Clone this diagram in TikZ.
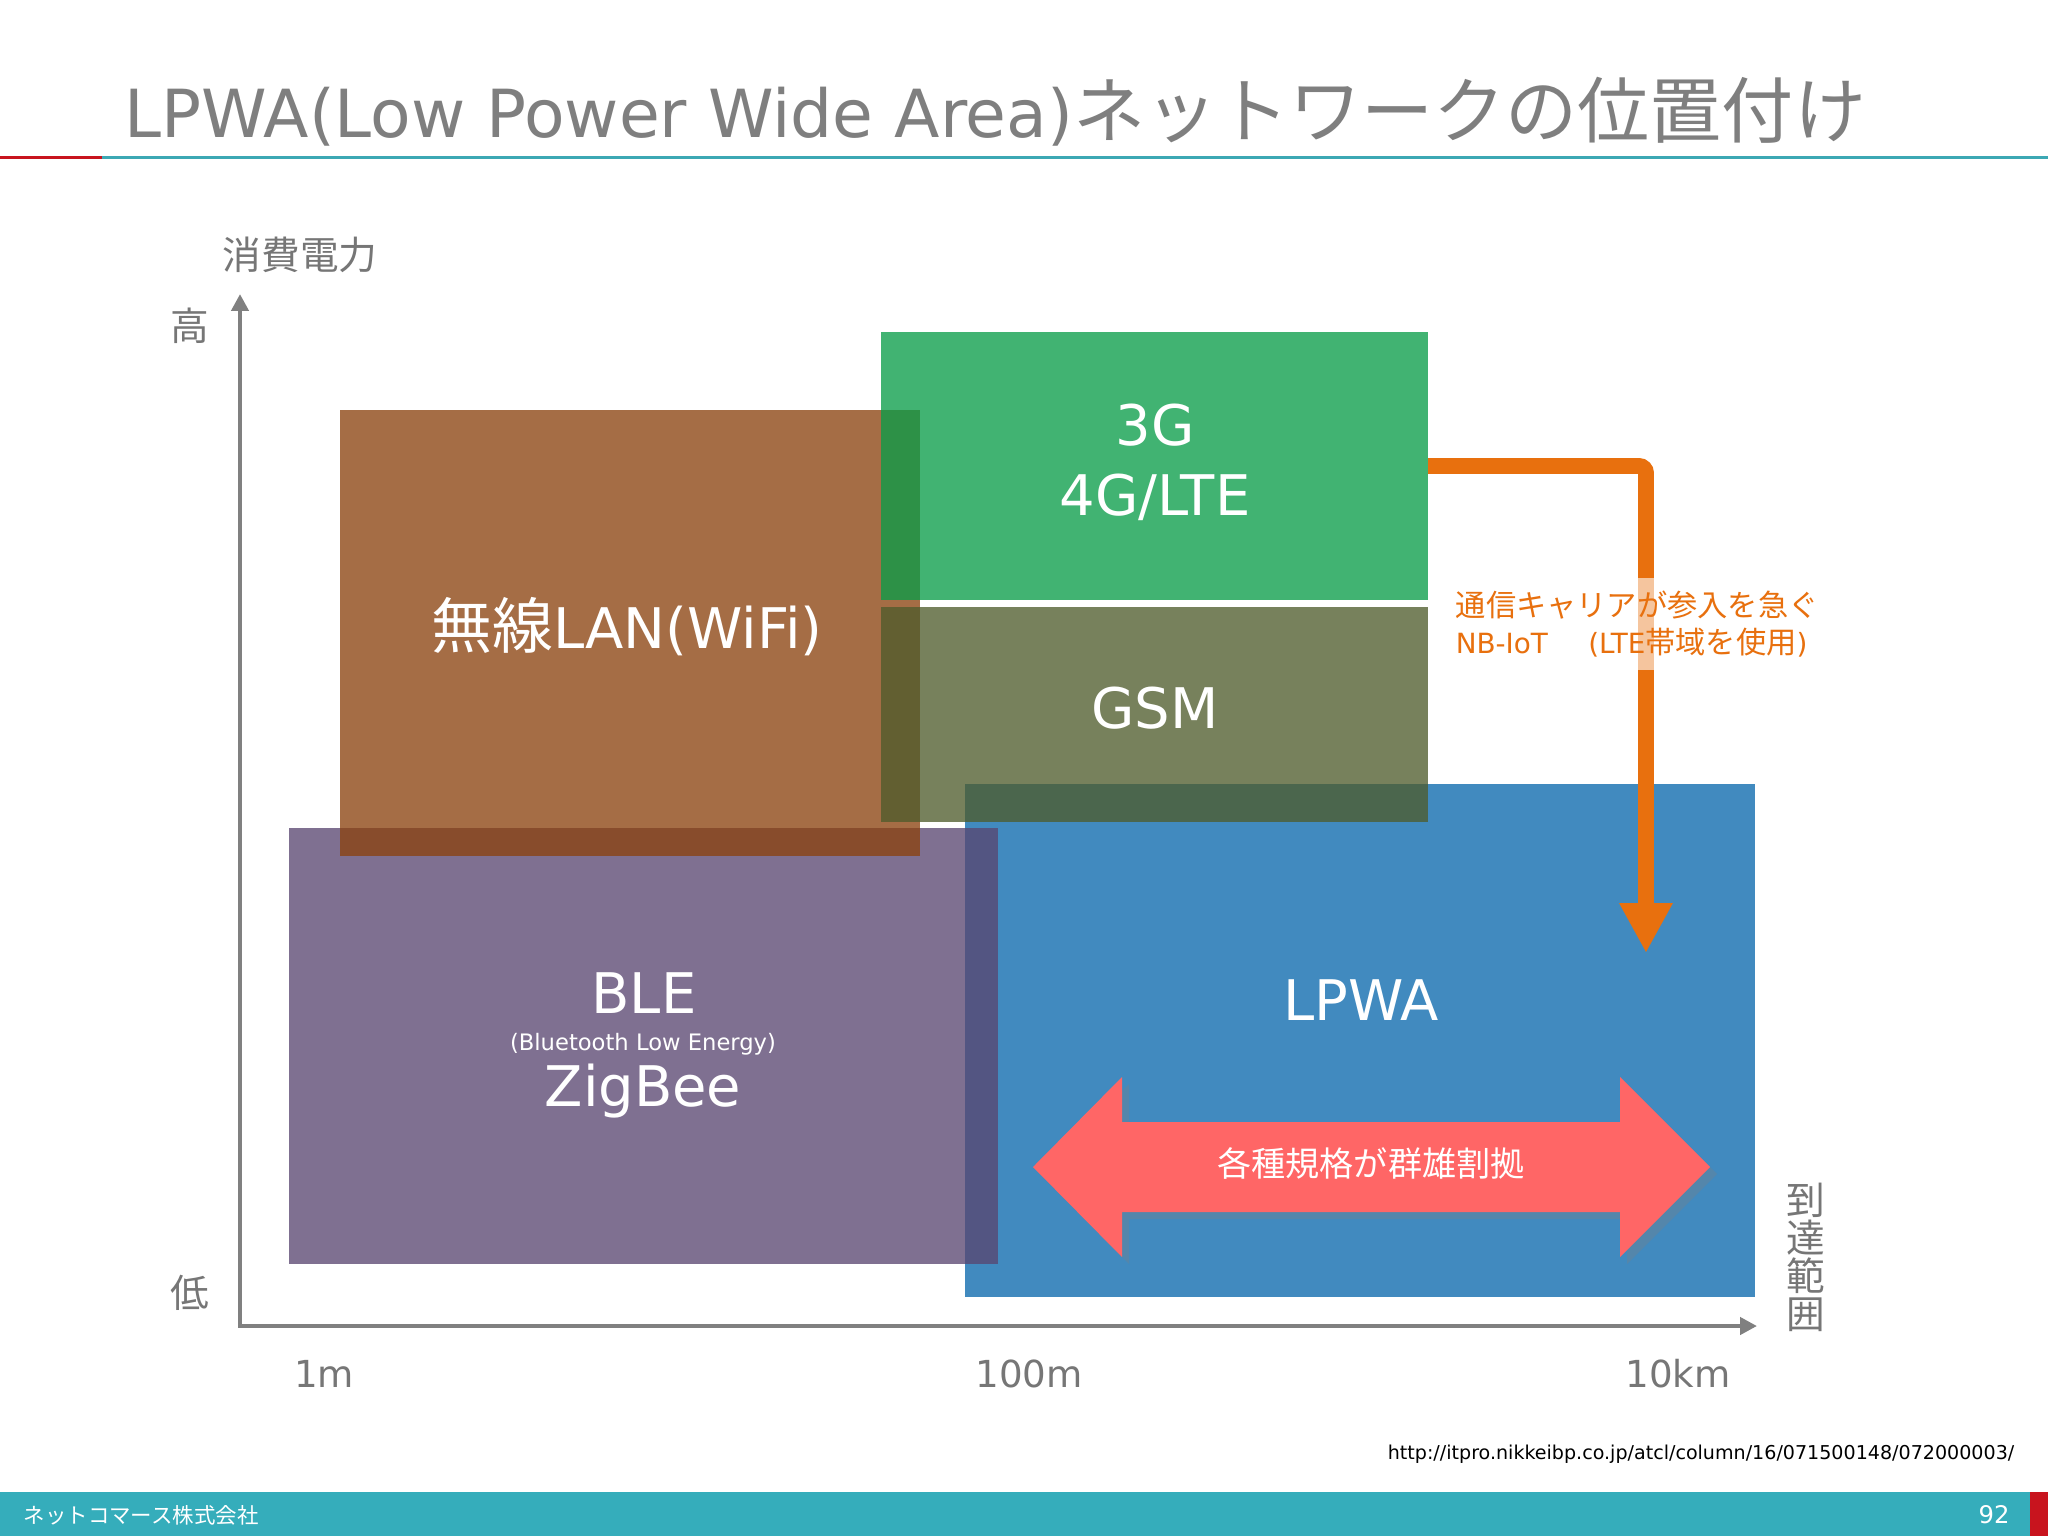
\documentclass[tikz,border=0pt]{standalone}
\usepackage{fontspec}
\setmainfont[Scale=0.92]{DejaVu Sans}
\newfontfamily\jp{Noto Sans CJK JP}
\usetikzlibrary{arrows.meta, shadows}
\definecolor{titlegray}{RGB}{127,127,127}
\definecolor{labgray}{RGB}{118,118,118}
\definecolor{axisgray}{RGB}{128,128,128}
\definecolor{lineteal}{RGB}{60,168,180}
\definecolor{linered}{RGB}{200,20,30}
\definecolor{footteal}{RGB}{53,173,187}
\definecolor{lpwablue}{RGB}{9,104,172}
\definecolor{blepurple}{RGB}{89,70,112}
\definecolor{wifibrown}{RGB}{139,66,14}
\definecolor{cellgreen}{RGB}{9,157,72}
\definecolor{gsmolive}{RGB}{79,92,43}
\definecolor{carrierorange}{RGB}{232,112,14}
\definecolor{rangered}{RGB}{255,102,102}
\tikzset{
  % Areas of each standard
  techbox/.style   = {rectangle, fill=#1, fill opacity=0.77, inner sep=0pt, outer sep=0pt},
  % Labels
  boxlab/.style    = {white, align=center, font=\fontsize{17.3pt}{19.9pt}\selectfont},
  smalllab/.style  = {white, font=\fontsize{7pt}{8pt}\selectfont},
  axislab/.style   = {labgray, align=center, font=\jp\fontsize{11pt}{10.8pt}\selectfont},
  ticklab/.style   = {labgray, font=\fontsize{11.5pt}{13pt}\selectfont},
  % Axes
  axisline/.style  = {{Triangle[width=4.8pt 0,length=4.8pt 0]}-{Triangle[width=4.8pt 0,length=4.8pt 0]}, line width=1.4pt, axisgray},
  % Carrier arrow and note
  carrier/.style   = {-{Triangle[width=14.2pt 0,length=14.2pt 0]}, line width=4.5pt, carrierorange, rounded corners=2pt},
  carriertext/.style = {carrierorange, align=left, fill=white, fill opacity=0.6, text opacity=1,
                        inner xsep=5.7pt, inner ysep=3.7pt, font=\fontsize{8.6pt}{10.5pt}\selectfont},
  % Range arrow
  rangearrow/.style = {fill=rangered, drop shadow={shadow xshift=2pt, shadow yshift=-2pt, opacity=0.3}},
}

\begin{document}
\begin{tikzpicture}[x=0.01cm, y=-0.01cm]
  \useasboundingbox (0,0) rectangle (2048,1536);
  \fill[white] (0,0) rectangle (2048,1536);

  % title
  \node[titlegray, anchor=base west, inner sep=0pt, font=\fontsize{20.5pt}{24pt}\selectfont] (title) at (124,137)
    {LPWA(Low Power Wide Area){\jp ネットワークの位置付け}};
  \fill[linered] (0,155.5) rectangle (102,158.5);
  \fill[lineteal] (102,155.5) rectangle (2048,158.5);

  % areas
  \node[techbox=lpwablue, minimum width=7.90cm, minimum height=5.13cm] (lpwa) at (1360,1040.5) {};
  \node[techbox=blepurple, minimum width=7.09cm, minimum height=4.36cm] (ble) at (643.5,1046) {};
  \node[techbox=wifibrown, minimum width=5.80cm, minimum height=4.46cm] (wifi) at (630,633) {};
  \node[techbox=cellgreen, minimum width=5.47cm, minimum height=2.68cm] (g3) at (1154.5,466) {};
  \node[techbox=gsmolive, minimum width=5.47cm, minimum height=2.15cm] (gsm) at (1154.5,714.5) {};

  \node[boxlab] (wifilab) at (627,627) {{\jp 無線}LAN(WiFi)};
  \node[boxlab] (g3lab) at (1155,462) {3G\\4G/LTE};
  \node[boxlab] (gsmlab) at (1155,708) {GSM};
  \node[boxlab] (blelab) at (644,993) {BLE};
  \node[smalllab] (blefull) at (643,1044) {(Bluetooth Low Energy)};
  \node[boxlab] (ziglab) at (643,1091) {ZigBee};
  \node[boxlab] (lpwalab) at (1361,1000) {LPWA};

  % range arrow
  \fill[rangearrow] (1033,1167) -- (1122,1077) -- (1122,1122) -- (1620,1122) -- (1620,1077)
    -- (1710,1167) -- (1620,1257) -- (1620,1212) -- (1122,1212) -- (1122,1257) -- cycle;
  \node[white, font=\jp\fontsize{9.7pt}{11pt}\selectfont] (range) at (1371,1163) {各種規格が群雄割拠};

  % carrier arrow
  \coordinate (turn) at (1646,466);
  \coordinate (tip) at (1646,953);
  \draw[carrier] (g3.east |- turn) -- (turn) -- (tip);
  \node[carriertext, anchor=west] (nbiot) at (1435,624)
    {{\jp 通信キャリアが参入を急ぐ}\\NB-IoT\hspace{1.45em}(LTE{\jp 帯域を使用})};

  % axes
  \coordinate (origin) at (240,1326);
  \coordinate (ytip) at (240,294);
  \coordinate (xtip) at (1757,1326);
  \draw[axisline] (ytip) -- (origin) -- (xtip);
  \node[axislab] (power) at (300,255) {消費電力};
  \node[axislab] (high) at (190,326) {高};
  \node[axislab] (low) at (190,1293) {低};
  \node[axislab] (reach) at (1806,1257) {到\\達\\範\\囲};
  \node[ticklab] (t1) at (324,1374) {1m};
  \node[ticklab] (t2) at (1029,1374) {100m};
  \node[ticklab] (t3) at (1678,1374) {10km};

  % source and footer
  \node[anchor=east, inner sep=0pt, font=\fontsize{5.9pt}{7pt}\selectfont] (src) at (2015,1454)
    {http://itpro.nikkeibp.co.jp/atcl/column/16/071500148/072000003/};
  \fill[footteal] (0,1492) rectangle (2048,1536);
  \fill[linered] (2030,1492) rectangle (2048,1536);
  \node[white, anchor=west, inner sep=0pt, font=\jp\fontsize{6.1pt}{7pt}\selectfont] (company) at (23,1515) {ネットコマース株式会社};
  \node[white, font=\fontsize{7.5pt}{9pt}\selectfont] (page) at (1994,1515) {92};
\end{tikzpicture}
\end{document}
